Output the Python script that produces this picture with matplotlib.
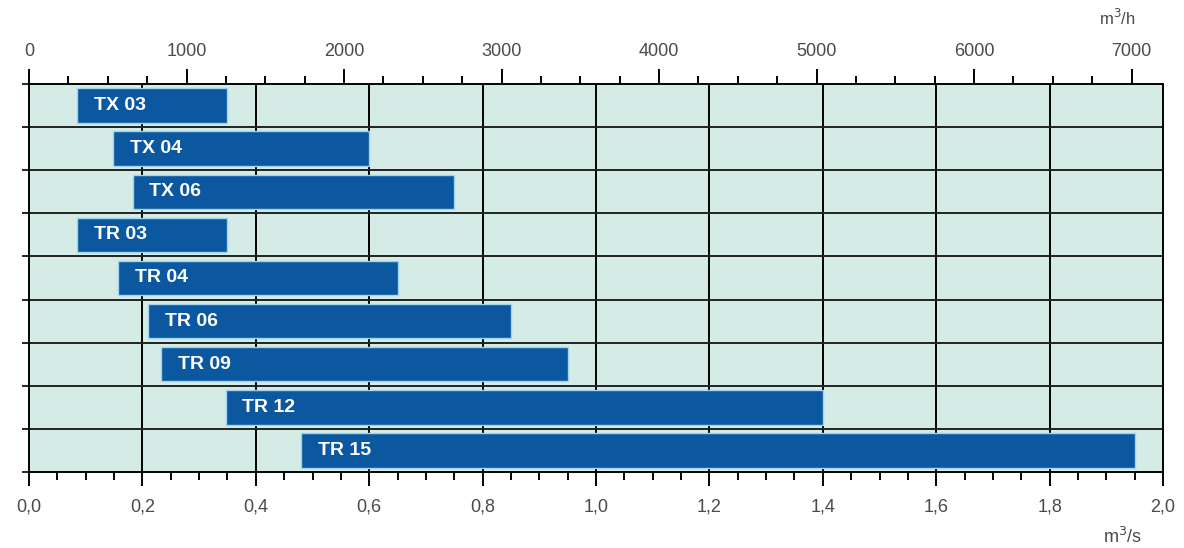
import matplotlib.pyplot as plt
from matplotlib.ticker import MultipleLocator, FuncFormatter

# rozsahy průtoku jednotlivých typů (m3/s)
names = ['TX 03', 'TX 04', 'TX 06', 'TR 03', 'TR 04', 'TR 06', 'TR 09', 'TR 12', 'TR 15']
flow_min = [0.085, 0.148, 0.183, 0.085, 0.157, 0.21, 0.233, 0.347, 0.48]
flow_max = [0.35, 0.60, 0.75, 0.35, 0.65, 0.85, 0.95, 1.40, 1.95]

bottom_ticks = [0.0, 0.2, 0.4, 0.6, 0.8, 1.0, 1.2, 1.4, 1.6, 1.8, 2.0]
top_ticks = [0, 1000, 2000, 3000, 4000, 5000, 6000, 7000]

BG = '#d4ebe6'
BAR = '#0b58a0'
TXT = '#4a4a4a'

plt.rcParams['font.family'] = ['Liberation Sans', 'DejaVu Sans']

fig = plt.figure(figsize=(11.84, 5.48), dpi=100)
ax = fig.add_axes([29 / 1184, 76 / 548, 1134 / 1184, 388 / 548])
ax.set_facecolor(BG)

n = len(names)
ypos = [n - 1 - i + 0.5 for i in range(n)]
widths = [b - a for a, b in zip(flow_min, flow_max)]
ax.barh(ypos, widths, left=flow_min, height=0.8, color=BAR,
        edgecolor='#9fd3f0', linewidth=1.0, zorder=3)

for y, x0, name in zip(ypos, flow_min, names):
    ax.annotate(name, (x0, y), xytext=(12, 0), textcoords='offset points',
                va='center', ha='left', color='white', fontsize=14,
                fontweight='bold', zorder=4)

ax.set_xlim(0, 2.0)
ax.set_ylim(0, n)

# mřížka
for x in bottom_ticks[1:-1]:
    ax.axvline(x, color='black', linewidth=1.4, zorder=2)
for k in range(1, n):
    ax.axhline(k, color='#222222', linewidth=1.4, zorder=2)

for s in ax.spines.values():
    s.set_linewidth(1.4)
    s.set_color('black')

ax.set_xticks(bottom_ticks)
ax.xaxis.set_major_formatter(FuncFormatter(lambda v, p: f'{v:.1f}'.replace('.', ',')))
ax.xaxis.set_minor_locator(MultipleLocator(0.05))
ax.tick_params(axis='x', which='major', direction='out', length=10, width=1.4,
               colors='black', labelcolor=TXT, labelsize=13, pad=9)
ax.tick_params(axis='x', which='minor', direction='out', length=6, width=1.4, colors='black')

ax.set_yticks(range(0, n + 1))
ax.set_yticklabels([])
ax.tick_params(axis='y', direction='out', length=5, width=1.2, colors='black')

# horní osa v m3/h
ax2 = ax.twiny()
ax2.set_xlim(0, 2.0 * 3600)
ax2.set_xticks(top_ticks)
ax2.xaxis.set_minor_locator(MultipleLocator(250))
ax2.tick_params(axis='x', which='major', direction='out', length=11, width=1.4,
                colors='black', labelcolor=TXT, labelsize=13, pad=6)
ax2.tick_params(axis='x', which='minor', direction='out', length=6, width=1.4, colors='black')
for s in ax2.spines.values():
    s.set_visible(False)

fig.text(1117 / 1184, 1 - 18 / 548, 'm$^3$/h', color=TXT, fontsize=12, ha='center', va='center')
fig.text(1123 / 1184, 1 - 537 / 548, 'm$^3$/s', color=TXT, fontsize=13, ha='center', va='center')

fig.savefig('out.png', dpi=100, facecolor='white')
